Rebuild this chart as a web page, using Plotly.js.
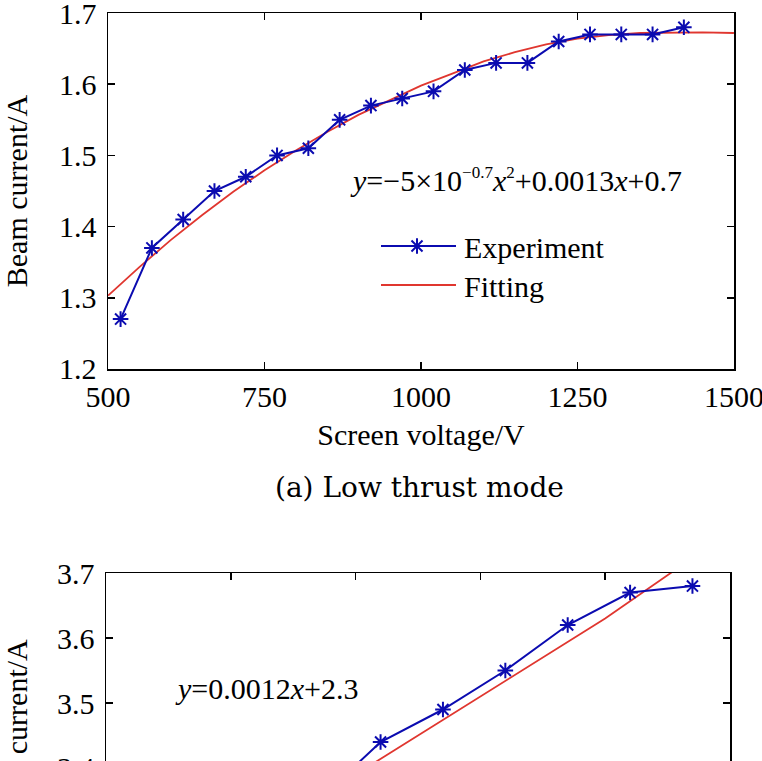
<!DOCTYPE html>
<html>
<head>
<meta charset="utf-8">
<script src="https://cdn.plot.ly/plotly-3.0.1.min.js"></script>
<style>
    html, body { margin: 0; padding: 0; overflow: hidden; background: #ffffff; }
    #chart { width: 762px; height: 1000px; }
</style>
</head>
<body>
<div id="chart"></div>
<script>
// (a) low thrust mode
const voltageLow = [520, 570, 620, 670, 720, 770, 820, 870, 920, 970, 1020, 1070, 1120, 1170, 1220, 1270, 1320, 1370, 1420];
const currentLow = [1.27, 1.37, 1.41, 1.45, 1.47, 1.50, 1.51, 1.55, 1.57, 1.58, 1.59, 1.62, 1.63, 1.63, 1.66, 1.67, 1.67, 1.67, 1.68];
const fitVoltageLow = [500, 550, 600, 650, 700, 750, 800, 850, 900, 950, 1000, 1050, 1100, 1150, 1200, 1250, 1300, 1350, 1400, 1450, 1500];
const fitCurrentLow = [1.303, 1.343, 1.381, 1.416, 1.449, 1.479, 1.507, 1.533, 1.557, 1.578, 1.598, 1.615, 1.632, 1.645, 1.656, 1.664, 1.669, 1.672, 1.673, 1.673, 1.672];

// second panel, only its top part is in the picture
const voltageHigh = [870, 920, 970, 1020, 1070, 1120, 1170];
const currentHigh = [3.35, 3.44, 3.49, 3.55, 3.62, 3.67, 3.68];
const fitVoltageHigh = [700, 800, 900, 1000, 1100, 1160];
const fitCurrentHigh = [3.15, 3.27, 3.39, 3.51, 3.63, 3.71];

const xTicksLow = [500, 750, 1000, 1250, 1500];
const yTicksLow = [1.2, 1.3, 1.4, 1.5, 1.6, 1.7];
const xTicksHigh = [700, 800, 900, 1000, 1100, 1200];
const yTicksHigh = [3.4, 3.5, 3.6, 3.7];

const W = 762;
const H = 1000;
const FONT = "Liberation Serif";
const CAPTION_FONT = "DejaVu Serif";
const BLUE_LINE = "#0b0bb0";
const BLUE_MARK = "#0000ff";
const RED = "#e0362f";

window.addEventListener("DOMContentLoaded", init);


function init() {
    let data = dataset();
    let layout = makeLayout();
    Plotly.newPlot('chart', data, layout, {displayModeBar: false, staticPlot: true})
        .then(stretchLegend);
}


function dataset() {
    let exp1 = {
        x: voltageLow, y: currentLow, xaxis: 'x', yaxis: 'y',
        name: 'Experiment', legend: 'legend', type: 'scatter', mode: 'lines+markers',
        line: {color: BLUE_LINE, width: 2},
        marker: {symbol: 'asterisk-open', size: 13, line: {color: BLUE_MARK, width: 2}}
    };
    let fit1 = {
        x: fitVoltageLow, y: fitCurrentLow, xaxis: 'x', yaxis: 'y',
        name: 'Fitting', legend: 'legend2', type: 'scatter', mode: 'lines',
        line: {color: RED, width: 1.8}
    };
    let exp2 = {
        x: voltageHigh, y: currentHigh, xaxis: 'x2', yaxis: 'y2',
        showlegend: false, type: 'scatter', mode: 'lines+markers',
        line: {color: BLUE_LINE, width: 2},
        marker: {symbol: 'asterisk-open', size: 13, line: {color: BLUE_MARK, width: 2}}
    };
    let fit2 = {
        x: fitVoltageHigh, y: fitCurrentHigh, xaxis: 'x2', yaxis: 'y2',
        showlegend: false, type: 'scatter', mode: 'lines',
        line: {color: RED, width: 1.8}
    };
    // fitting first so the experiment line sits on top
    return [fit1, exp1, fit2, exp2];
}


function axis(extra) {
    let base = {
        showline: true, linecolor: '#000', linewidth: 1.5,
        mirror: 'ticks', ticks: 'inside', ticklen: 7, tickwidth: 1.5, tickcolor: '#000',
        showgrid: false, zeroline: false, ticklabeloverflow: 'allow',
        tickfont: {family: FONT, size: 30, color: '#000'}
    };
    return Object.assign(base, extra);
}


function legendAt(top) {
    return {
        x: 376 / W, y: 1 - top / H, xanchor: 'left', yanchor: 'top',
        bgcolor: 'rgba(0,0,0,0)', borderwidth: 0, itemwidth: 78,
        font: {family: FONT, size: 30, color: '#000'}
    };
}


function small(s) {
    return '<sup><span style="font-size:17px">' + s + '</span></sup>';
}


function makeLayout() {
    return {
        width: W, height: H,
        margin: {l: 0, r: 0, t: 0, b: 0},
        paper_bgcolor: '#fff', plot_bgcolor: '#fff',
        font: {family: FONT, size: 30, color: '#000'},
        showlegend: true,
        legend: legendAt(220),
        legend2: legendAt(259),
        xaxis: axis({
            domain: [108 / W, 734 / W], anchor: 'y', range: [499.9, 1500.1],
            tickvals: xTicksLow,
            title: {text: 'Screen voltage/V', font: {family: FONT, size: 30}, standoff: 12}
        }),
        yaxis: axis({
            domain: [1 - 369 / H, 1 - 13 / H], anchor: 'x', range: [1.1999, 1.7001],
            tickvals: yTicksLow, tickformat: '.1f', ticklabelstandoff: 4,
            title: {text: 'Beam current/A', font: {family: FONT, size: 30}, standoff: 32}
        }),
        xaxis2: axis({
            domain: [106 / W, 730 / W], anchor: 'y2', range: [699.9, 1200.1],
            tickvals: xTicksHigh, showticklabels: false
        }),
        yaxis2: axis({
            domain: [1 - 898 / H, 1 - 573 / H], anchor: 'x2', range: [3.1999, 3.7001],
            tickvals: yTicksHigh, tickformat: '.1f', ticklabelstandoff: 4,
            title: {text: 'Beam current/A', font: {family: FONT, size: 30}, standoff: 28}
        }),
        annotations: [
            {
                text: '<i>y</i>=−5×10' + small('−0.7') + '<i>x</i>' + small('2') + '+0.0013<i>x</i>+0.7',
                xref: 'paper', yref: 'paper', x: 348 / W, y: 1 - 180 / H,
                xanchor: 'left', yanchor: 'middle', showarrow: false,
                font: {family: FONT, size: 30, color: '#000'}
            },
            {
                text: '(a) Low thrust mode',
                xref: 'paper', yref: 'paper', x: 419 / W, y: 1 - 487 / H,
                xanchor: 'center', yanchor: 'middle', showarrow: false,
                font: {family: CAPTION_FONT, size: 28, color: '#000'}
            },
            {
                text: '<i>y</i>=0.0012<i>x</i>+2.3',
                xref: 'paper', yref: 'paper', x: 173 / W, y: 1 - 688 / H,
                xanchor: 'left', yanchor: 'middle', showarrow: false,
                font: {family: FONT, size: 30, color: '#000'}
            }
        ]
    };
}


// legend samples in the reference are longer than plotly's 30px default
function stretchLegend(gd) {
    gd.querySelectorAll('.legendlines path').forEach(p => {
        p.setAttribute('d', 'M5,0h75');
    });
    gd.querySelectorAll('.legendpoints path').forEach(p => {
        p.setAttribute('transform', 'translate(41,0)');
    });
}
</script>
</body>
</html>
